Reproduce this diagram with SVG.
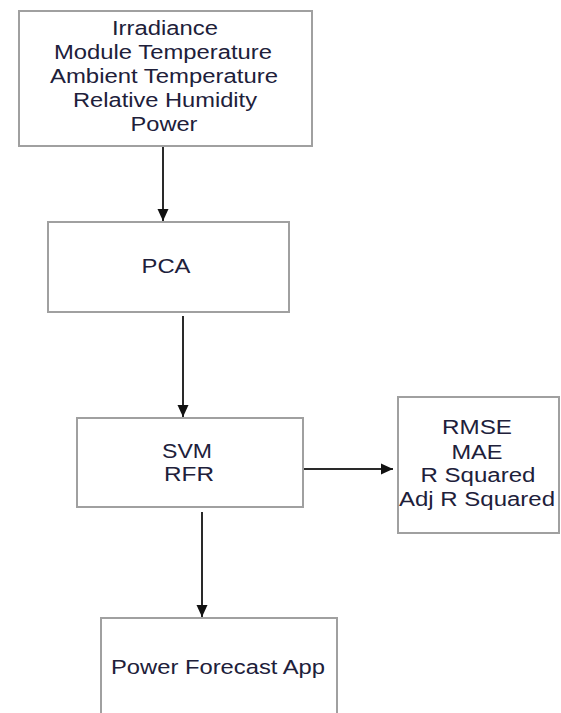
<svg xmlns="http://www.w3.org/2000/svg" width="561" height="713" viewBox="0 0 561 713">
<style>
.box{fill:#fff;stroke:#a0a0a0;stroke-width:2}
.t{font-family:"Liberation Sans",Arial,sans-serif;font-size:20px;fill:#20203a;text-anchor:middle}
.c{stroke:#2a2a2a;stroke-width:2;fill:none}
</style>
<defs>
<marker id="ah" markerWidth="12" markerHeight="12" viewBox="0 0 12 12" refX="12" refY="6" orient="auto" markerUnits="userSpaceOnUse">
<path d="M0,0.5 L12,6 L0,11.5 Z" fill="#111"/>
</marker>
</defs>
<rect width="561" height="713" fill="#fff"/>
<g id="connectors">
<line class="c" x1="163" y1="147" x2="163" y2="221" marker-end="url(#ah)"/>
<line class="c" x1="183" y1="316" x2="183" y2="417" marker-end="url(#ah)"/>
<line class="c" x1="304" y1="469" x2="393" y2="469" marker-end="url(#ah)"/>
<line class="c" x1="202" y1="512" x2="202" y2="617" marker-end="url(#ah)"/>
</g>
<g id="inputs">
<rect class="box" x="19" y="11" width="293" height="135"/>
<text class="t" x="165" y="35" textLength="106" lengthAdjust="spacingAndGlyphs">Irradiance</text>
<text class="t" x="163" y="59" textLength="218" lengthAdjust="spacingAndGlyphs">Module Temperature</text>
<text class="t" x="164" y="83" textLength="228" lengthAdjust="spacingAndGlyphs">Ambient Temperature</text>
<text class="t" x="165" y="107" textLength="184" lengthAdjust="spacingAndGlyphs">Relative Humidity</text>
<text class="t" x="164" y="131" textLength="67" lengthAdjust="spacingAndGlyphs">Power</text>
</g>
<g id="pca">
<rect class="box" x="48" y="222" width="241" height="90"/>
<text class="t" x="166" y="273" textLength="49" lengthAdjust="spacingAndGlyphs">PCA</text>
</g>
<g id="models">
<rect class="box" x="77" y="418" width="226" height="89"/>
<text class="t" x="187" y="458" textLength="50" lengthAdjust="spacingAndGlyphs">SVM</text>
<text class="t" x="189" y="481" textLength="50" lengthAdjust="spacingAndGlyphs">RFR</text>
</g>
<g id="metrics">
<rect class="box" x="398" y="397" width="161" height="136"/>
<text class="t" x="477" y="434" textLength="70" lengthAdjust="spacingAndGlyphs">RMSE</text>
<text class="t" x="477" y="459" textLength="51" lengthAdjust="spacingAndGlyphs">MAE</text>
<text class="t" x="478" y="482" textLength="115" lengthAdjust="spacingAndGlyphs">R Squared</text>
<text class="t" x="477" y="506" textLength="156" lengthAdjust="spacingAndGlyphs">Adj R Squared</text>
</g>
<g id="app">
<rect class="box" x="101" y="618" width="236" height="110"/>
<text class="t" x="218" y="674" textLength="214" lengthAdjust="spacingAndGlyphs">Power Forecast App</text>
</g>
</svg>
